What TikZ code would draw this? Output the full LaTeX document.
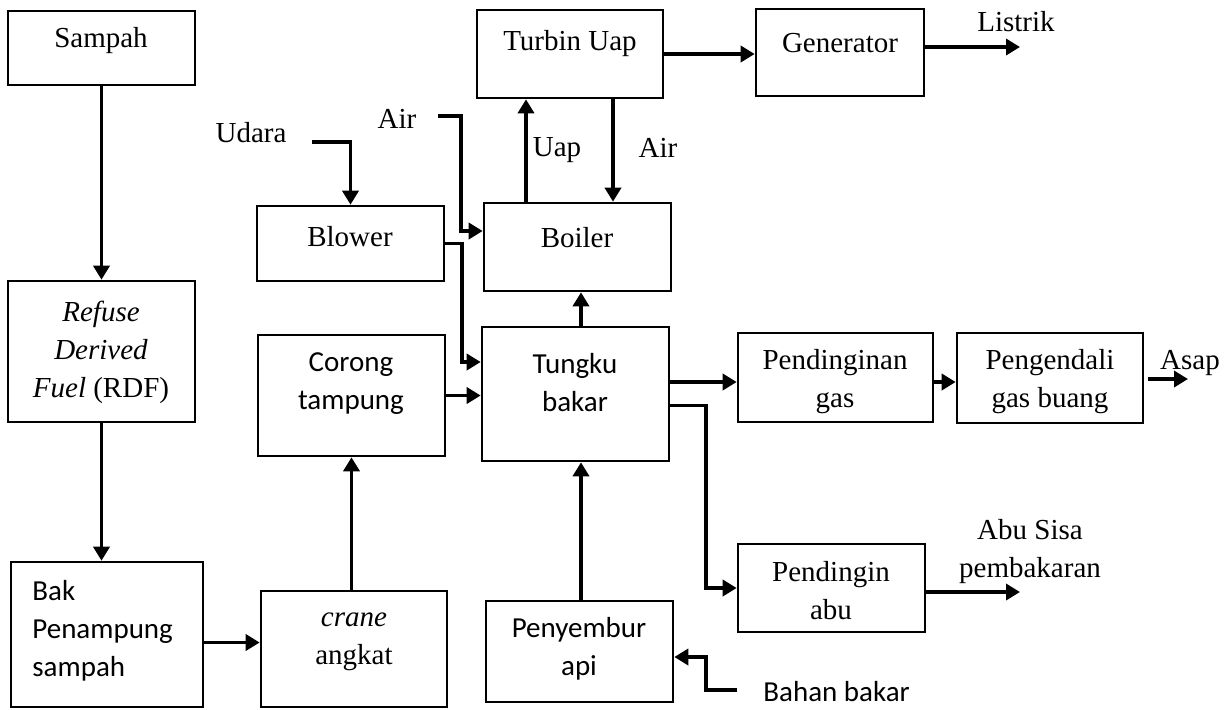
\documentclass[tikz,border=0pt]{standalone}
\usepackage{fontspec}
\setmainfont{Liberation Serif}
\newfontfamily\calibri{Carlito}
\usetikzlibrary{arrows.meta,positioning}

\tikzset{
	box/.style 2 args={draw, line width=1.3pt, minimum width=#1*0.5pt, minimum height=#2*0.5pt, inner sep=0pt},
	txt/.style={inner sep=0pt, align=center},
	sans/.style={font=\calibri\fontsize{14.5}{19}\selectfont},
	arr/.style={-{Triangle[length=7pt,width=8pt]}, line width=1.9pt}
}

\begin{document}
\begin{tikzpicture}[x=0.5pt, y=-0.5pt, font=\fontsize{14.5}{19}\selectfont]
	\useasboundingbox (0,0) rectangle (1228,709);
	% kotak
	\node[box={187}{74}] (sampah) at (101.5, 48) {};
	\node[box={187}{141}] (rdf) at (101.5, 351.5) {};
	\node[box={192}{145}] (bak) at (107, 634.5) {};
	\node[box={186}{116}] (crane) at (354, 649) {};
	\node[box={187}{121}] (corong) at (351.5, 395.5) {};
	\node[box={187}{75}] (blower) at (350.5, 243.5) {};
	\node[box={186}{88}] (turbin) at (570, 54) {};
	\node[box={168}{87}] (generator) at (840, 52.5) {};
	\node[box={187}{88}] (boiler) at (577.5, 247) {};
	\node[box={187}{134}] (tungku) at (575.5, 394) {};
	\node[box={195}{89}] (pgas) at (835.5, 377.5) {};
	\node[box={186}{90}] (pengendali) at (1050, 378) {};
	\node[box={187}{88}] (pabu) at (831.5, 588) {};
	\node[box={187}{101}] (penyembur) at (579.5, 651.5) {};
	% teks dalam kotak
	\node[txt] (tsampah) at (101, 41) {Sampah};
	\node[txt] (trdf) at (101, 352) {\textit{Refuse}\\ \textit{Derived}\\ \textit{Fuel} (RDF)};
	\node[txt, sans, align=left, anchor=west] (tbak) at (32, 631) {Bak\\ Penampung\\ sampah};
	\node[txt] (tcrane) at (354, 642) {\textit{crane}\\ angkat};
	\node[txt, sans] (tcorong) at (351, 384) {Corong\\ tampung};
	\node[txt] (tblower) at (350, 237) {Blower};
	\node[txt] (tturbin) at (570, 44) {Turbin Uap};
	\node[txt] (tgenerator) at (840, 43) {Generator};
	\node[txt] (tboiler) at (577, 238) {Boiler};
	\node[txt, sans] (ttungku) at (575, 383) {Tungku\\ bakar};
	\node[txt] (tpgas) at (835, 382) {Pendinginan\\ gas};
	\node[txt] (tpengendali) at (1050, 382) {Pengendali\\ gas buang};
	\node[txt] (tpabu) at (831, 591) {Pendingin\\ abu};
	\node[txt, sans] (tpenyembur) at (579, 649) {Penyembur\\ api};
	% label aliran
	\node[txt] (listrik) at (1016, 22) {Listrik};
	\node[txt] (udara) at (251, 133) {Udara};
	\node[txt] (aira) at (397, 119) {Air};
	\node[txt] (uap) at (557, 150) {Uap};
	\node[txt] (airb) at (658, 148) {Air};
	\node[txt] (abusisa) at (1030, 552) {Abu Sisa\\ pembakaran};
	\node[txt, sans, anchor=west] (bahan) at (763, 692) {Bahan bakar};
	% titik bantu
	\coordinate (udin) at (312, 142);
	\coordinate (airin) at (438, 116);
	\coordinate (ajoint) at (461, 231);
	\coordinate (bjoint) at (462, 362);
	\coordinate (tjoint) at (706, 500);
	\coordinate (bahanin) at (737, 690);
	\coordinate (pjoint) at (706, 657);
	\coordinate (listrikend) at (1020, 47);
	\coordinate (asapend) at (1188, 379);
	\coordinate (abuend) at (1020, 592);
	% panah
	\draw[arr] (sampah) -- (rdf);
	\draw[arr] (rdf.south) -- (rdf.south |- bak.north);
	\draw[arr] ([yshift=-4pt]bak.east) -- ([yshift=-4pt]bak.east -| crane.west);
	\draw[arr] (crane.north -| corong.south) -- (corong.south);
	\draw[arr] (corong.east) -- (corong.east -| tungku.west);
	\draw[arr] (blower.east) -| (bjoint) -- (bjoint -| tungku.west);
	\draw[arr] (airin) -| (ajoint) -- (ajoint -| boiler.west);
	\draw[arr] (udin) -| (blower.north);
	\draw[arr] ([xshift=-25.75pt]boiler.north) -- ([xshift=-25.75pt]boiler.north |- turbin.south);
	\draw[arr] ([xshift=21.5pt]turbin.south) -- ([xshift=21.5pt]turbin.south |- boiler.north);
	\draw[arr] (turbin.east) -- (turbin.east -| generator.west);
	\draw[arr] (generator.east |- listrikend) -- (listrikend);
	\draw[arr] ([xshift=2.75pt]tungku.north) -- ([xshift=2.75pt]tungku.north |- boiler.south);
	\draw[arr] ([yshift=6pt]tungku.east) -- ([yshift=6pt]tungku.east -| pgas.west);
	\draw[arr] ([yshift=-5.75pt]tungku.east) -| (tjoint) |- (pabu.west);
	\draw[arr] ([yshift=-2.25pt]pgas.east) -- ([yshift=-2.25pt]pgas.east -| pengendali.west);
	\draw[arr] ([xshift=2pt]pengendali.east |- asapend) -- (asapend);
	\draw[arr] (pabu.east |- abuend) -- (abuend);
	\draw[arr] ([xshift=0.75pt]penyembur.north) -- ([xshift=0.75pt]penyembur.north |- tungku.south);
	\draw[arr] (bahanin) -| (pjoint) -- (pjoint -| penyembur.east);
	\node[txt] (asap) at (1190, 363) {Asap};
\end{tikzpicture}
\end{document}
